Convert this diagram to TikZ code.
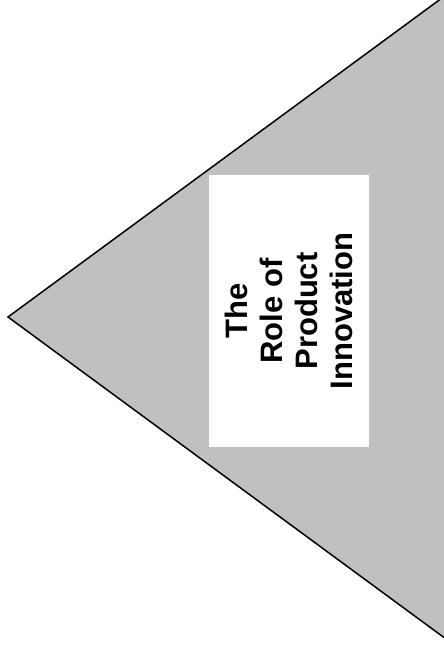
\documentclass[tikz,border=0pt]{standalone}
\usepackage{fontspec}
\setmainfont{Liberation Sans}
\definecolor{trigray}{HTML}{C0C0C0}
\tikzset{
  tri/.style={fill=trigray, draw=black, line width=1.5pt, line join=miter},
  label box/.style={fill=white, draw=none, minimum width=160pt, minimum height=272pt, inner sep=0pt},
  title text/.style={rotate=90, align=center, font=\bfseries\fontsize{31}{35}\selectfont}
}
\begin{document}
\begin{tikzpicture}[x=1pt,y=-1pt]
\useasboundingbox (0,0) rectangle (444,654);
\clip (0,0) rectangle (444,654);
\coordinate (apex) at (8,317);
\coordinate (top) at (446,-5);
\coordinate (bot) at (446,639);
\draw[tri] (apex) -- (top) -- (bot) -- cycle;
\node[label box] (box) at (289,311) {};
\node[title text] (title) at (box.center) {The\\Role of\\Product\\Innovation};
\end{tikzpicture}
\end{document}
